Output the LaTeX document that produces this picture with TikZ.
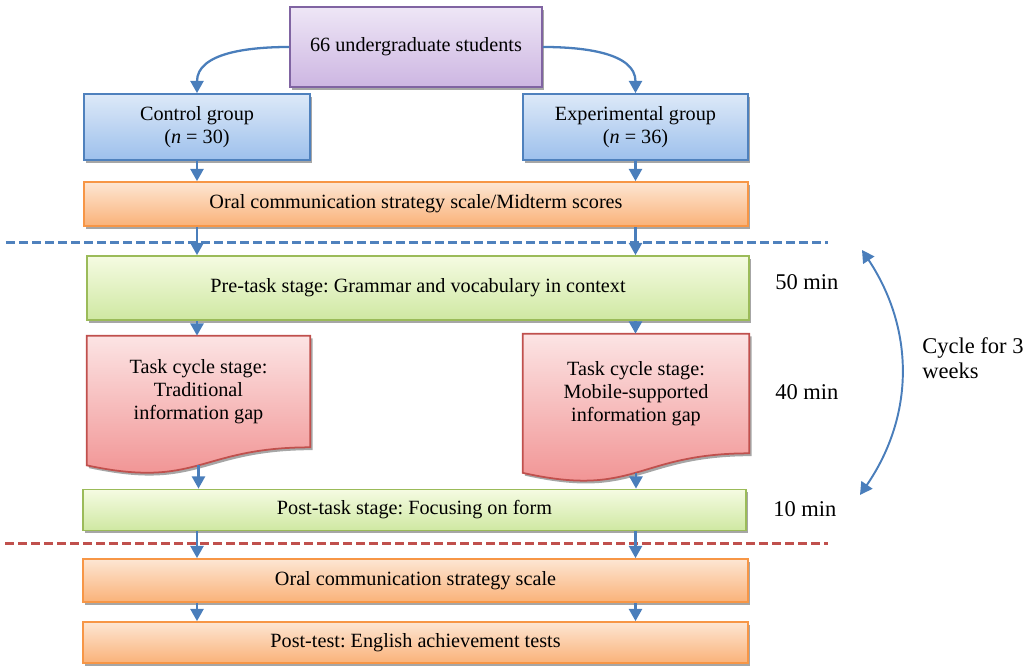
\documentclass[tikz,border=0pt]{standalone}
\usepackage{fontspec}
\setmainfont{Liberation Serif}
\usepackage{tikz}
\usetikzlibrary{positioning,arrows.meta,calc,shadows,backgrounds}

\definecolor{purpleline}{HTML}{8064A2}
\definecolor{purpletop}{HTML}{EEE6F6}
\definecolor{purplebot}{HTML}{CDB6E2}
\definecolor{blueline}{HTML}{4F81BD}
\definecolor{bluetop}{HTML}{DDE9F8}
\definecolor{bluebot}{HTML}{9DC0EC}
\definecolor{orangeline}{HTML}{F79646}
\definecolor{orangetop}{HTML}{FDE6D3}
\definecolor{orangebot}{HTML}{FAB279}
\definecolor{greenline}{HTML}{9BBB59}
\definecolor{greentop}{HTML}{F5FBE2}
\definecolor{greenbot}{HTML}{CFE8A2}
\definecolor{redline}{HTML}{C0504D}
\definecolor{redtop}{HTML}{FCE4E4}
\definecolor{redbot}{HTML}{F08C8C}
\definecolor{arrowblue}{HTML}{4A7EBB}

\begin{document}
\frenchspacing
\begin{tikzpicture}[
    font=\fontsize{11.5}{13}\selectfont,
    box/.style={draw, line width=1pt, align=center, inner sep=2pt, drop shadow={shadow xshift=1.3pt, shadow yshift=-1.6pt, fill=black, opacity=0.35}},
    purplebox/.style={box, draw=purpleline, top color=purpletop, bottom color=purplebot},
    bluebox/.style={box, draw=blueline, top color=bluetop, bottom color=bluebot},
    orangebox/.style={box, draw=orangeline, top color=orangetop, bottom color=orangebot},
    greenbox/.style={box, draw=greenline, top color=greentop, bottom color=greenbot},
    docbox/.style={align=center, inner sep=2pt},
    wave/.style={draw=redline, line width=1pt, top color=redtop, bottom color=redbot, drop shadow={shadow xshift=1.3pt, shadow yshift=-1.6pt, fill=black, opacity=0.35}},
    flow/.style={draw=arrowblue, line width=1.3pt, -{Triangle[width=7.5pt,length=7pt]}},
    dashline/.style={line width=1.7pt, dash pattern=on 5pt off 2.4pt},
    sidelabel/.style={font=\fontsize{12.8}{14.2}\selectfont, inner sep=0pt}
]
\useasboundingbox (0,0) rectangle (20.6,13.32);

% Groups
\node[purplebox, minimum width=5.04cm, minimum height=1.6cm] (students) at (8.32,12.38) {66 undergraduate students};
\node[bluebox, minimum width=4.52cm, minimum height=1.32cm] (control) at (3.94,10.78) {Control group\\(\textit{n} = 30)};
\node[bluebox, minimum width=4.5cm, minimum height=1.32cm] (experimental) at (12.71,10.78) {Experimental group\\(\textit{n} = 36)};
\node[orangebox, minimum width=13.28cm, minimum height=0.88cm] (oralpre) at (8.32,9.24) {Oral communication strategy scale/Midterm scores};

% Weekly cycle
\node[greenbox, minimum width=13.24cm, minimum height=1.28cm] (pretask) at (8.36,7.56) {Pre-task stage: Grammar and vocabulary in context};
\node[docbox, minimum width=4.46cm, minimum height=2.22cm] (taskL) at (3.97,5.49) {Task cycle stage:\\Traditional\\information gap};
\node[docbox, minimum width=4.52cm, minimum height=2.38cm] (taskR) at (12.72,5.45) {Task cycle stage:\\Mobile-supported\\information gap};
\node[greenbox, minimum width=13.26cm, minimum height=0.82cm] (posttask) at (8.29,3.12) {Post-task stage: Focusing on form};

% Post measures
\node[orangebox, minimum width=13.3cm, minimum height=0.86cm] (oralpost) at (8.31,1.71) {Oral communication strategy scale};
\node[orangebox, minimum width=13.3cm, minimum height=0.82cm] (posttest) at (8.31,0.47) {Post-test: English achievement tests};

% Document shapes behind the task texts
\begin{scope}[on background layer]
\path[wave] (taskL.north west) -- (taskL.north east) -- (taskL.south east)
    .. controls (taskL.south) and ($(taskL.south)+(0,-0.84)$) .. ($(taskL.south west)+(0,-0.36)$) -- cycle;
\path[wave] (taskR.north west) -- (taskR.north east) -- (taskR.south east)
    .. controls (taskR.south) and ($(taskR.south)+(0,-0.9)$) .. ($(taskR.south west)+(0,-0.39)$) -- cycle;
\end{scope}
\coordinate (taskLend) at ($(taskL.south)+(0,-0.36)$);
\coordinate (taskRend) at ($(taskR.south)+(0,-0.39)$);

% Durations
\node[sidelabel, anchor=base west] (min50) at (15.5,7.52) {50 min};
\node[sidelabel, anchor=base west] (min40) at (15.5,5.32) {40 min};
\node[sidelabel, anchor=base west] (min10) at (15.46,2.98) {10 min};
\node[sidelabel, anchor=north west, align=left] (cycle) at (18.44,6.57) {Cycle for 3\\weeks};

% Separators
\coordinate (blueL) at (0.12,8.46);
\coordinate (blueR) at (16.56,8.46);
\coordinate (redL) at (0.1,2.44);
\coordinate (redR) at (16.56,2.44);
\draw[dashline, draw=blueline] (blueL) -- (blueR);
\draw[dashline, draw=redline] (redL) -- (redR);

% Connections
\draw[flow] (students.west) to[out=180, in=90] (control.north);
\draw[flow] (students.east) to[out=0, in=90] (experimental.north);
\draw[flow] (control.south) -- (oralpre.north -| control);
\draw[flow] (experimental.south) -- (oralpre.north -| experimental);
\draw[flow] (oralpre.south -| control) -- (pretask.north -| control);
\draw[flow] (oralpre.south -| experimental) -- (pretask.north -| experimental);
\draw[flow] (pretask.south -| control) -- (taskL.north -| control);
\draw[flow] (pretask.south -| experimental) -- (taskR.north -| experimental);
\draw[flow] (taskLend) -- (posttask.north -| taskLend);
\draw[flow] (taskRend) -- (posttask.north -| taskRend);
\draw[flow] (posttask.south -| control) -- (oralpost.north -| control);
\draw[flow] (posttask.south -| experimental) -- (oralpost.north -| experimental);
\draw[flow] (oralpost.south -| control) -- (posttest.north -| control);
\draw[flow] (oralpost.south -| experimental) -- (posttest.north -| experimental);

% Cycle arrow
\coordinate (cycletop) at (17.24,8.32);
\coordinate (cyclebot) at (17.2,3.42);
\draw[flow, line width=1.1pt, {Triangle[width=7.5pt,length=7pt]}-{Triangle[width=7.5pt,length=7pt]}] (cycletop) to[bend left=34] (cyclebot);

\end{tikzpicture}
\end{document}
